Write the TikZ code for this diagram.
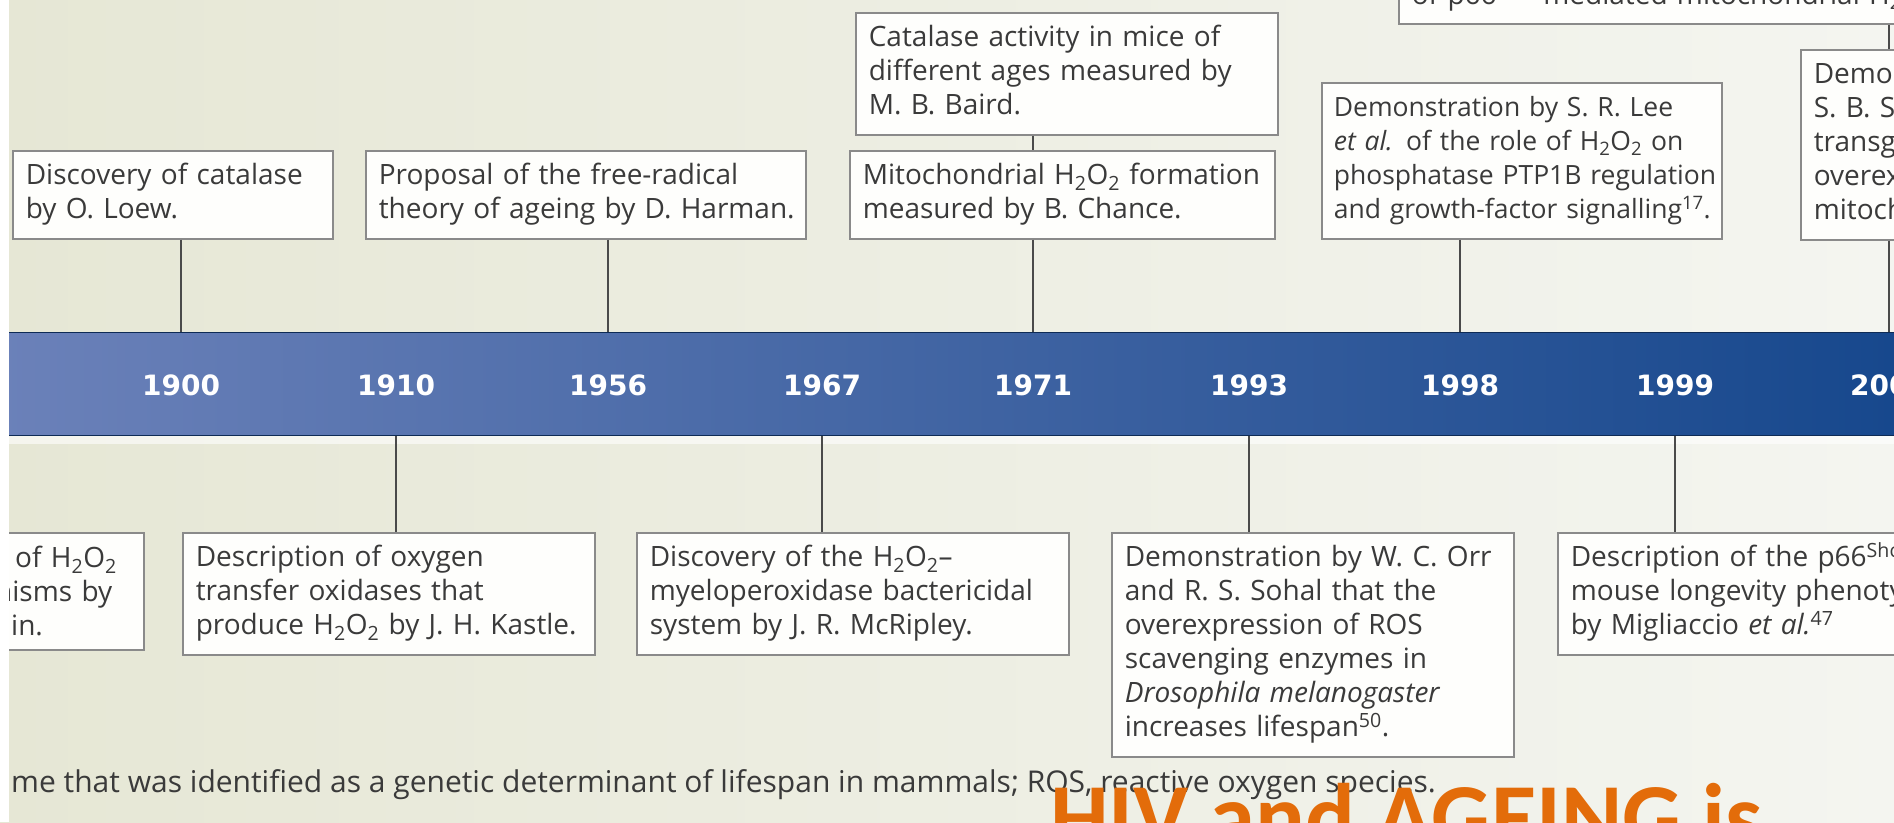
\documentclass[tikz,border=0pt]{standalone}
\usepackage{fontspec}
\setmainfont{Open Sans}
\newfontfamily\yearfont{DejaVu Sans}
\newfontfamily\slidefont{Carlito}
\newcommand\hoo{H\textsubscript{2}O\textsubscript{2}}
\newcommand\boxlines[1]{\begin{tabular}{@{}l@{}}#1\end{tabular}}
\definecolor{bgleft}{HTML}{E6E7D5}
\definecolor{bgright}{HTML}{F4F5F0}
\definecolor{bandleft}{HTML}{6B81B9}
\definecolor{bandmid}{HTML}{4868A9}
\definecolor{bandright}{HTML}{17488D}
\definecolor{boxline}{HTML}{8A8A8A}
\definecolor{boxfill}{HTML}{FEFEFC}
\definecolor{connline}{HTML}{4A4A4A}
\definecolor{txtcol}{HTML}{3A3A3A}
\definecolor{orangec}{HTML}{E36C0A}
\begin{document}
\begin{tikzpicture}[x=1pt,y=-1pt,
  box/.style={draw=boxline, line width=1.6pt, fill=boxfill, text=txtcol,
    inner xsep=13pt, inner ysep=10pt, align=left, anchor=north west,
    font=\fontsize{28}{34}\selectfont},
  conn/.style={draw=connline, line width=2pt},
  yr/.style={text=white, inner sep=0pt,
    font=\yearfont\bfseries\fontsize{28}{30}\selectfont}
]
\useasboundingbox (0,0) rectangle (1894,822);
\clip (0,0) rectangle (1894,822);
\shade[left color=bgleft, right color=bgright] (0,0) rectangle (1894,822);

% band
\node[minimum width=1894pt, minimum height=103pt, inner sep=0pt, anchor=north west,
  left color=bandleft, middle color=bandmid, right color=bandright,
  draw=bandright!60!black, line width=0.8pt] (band) at (0,332) {};
\fill[white, opacity=0.6] (0,436) rectangle (1894,444);

% years
\node[yr] (y1900) at (181,385) {1900};
\node[yr] (y1910) at (396,385) {1910};
\node[yr] (y1956) at (608,385) {1956};
\node[yr] (y1967) at (822,385) {1967};
\node[yr] (y1971) at (1033,385) {1971};
\node[yr] (y1993) at (1249,385) {1993};
\node[yr] (y1998) at (1460,385) {1998};
\node[yr] (y1999) at (1675,385) {1999};
\node[yr] (y2005) at (1889,385) {2005};

% top boxes
\node[box, text width=294pt, minimum height=83pt] (a) at (12,150)
  {\boxlines{Discovery of catalase\\by O. Loew.}};
\node[box, text width=414pt, minimum height=83pt] (b) at (365,150)
  {\boxlines{Proposal of the free-radical\\theory of ageing by D. Harman.}};
\node[box, text width=399pt, minimum height=83pt] (c) at (849,150)
  {\boxlines{Mitochondrial \hoo{} formation\\measured by B. Chance.}};
\node[box, text width=396pt, minimum height=113pt] (d) at (855,12)
  {\boxlines{Catalase activity in mice of\\different ages measured by\\M. B. Baird.}};
\node[box, text width=376pt, minimum height=151pt, inner xsep=12pt, font=\fontsize{26.5}{34}\selectfont] (e) at (1321,82)
  {\boxlines{Demonstration by S. R. Lee\\\textit{et al.} of the role of \hoo{} on\\phosphatase PTP1B regulation\\and growth-factor signalling\textsuperscript{17}.}};
\node[box, text width=574pt, anchor=south west] (f) at (1398,25)
  {\boxlines{of p66\textsuperscript{Shc}--mediated mitochondrial \hoo}};
\node[box, text width=374pt, minimum height=184pt] (g) at (1800,49)
  {\boxlines{Demon\\S. B. Sc\\transge\\overex\\mitoch}};

% bottom boxes
\node[box, text width=474pt, minimum height=117pt, anchor=north east] (h) at (145,532)
  {\hspace*{358pt}of \hoo\\\hspace*{338pt}nisms by\\\hspace*{354pt}in.};
\node[box, text width=386pt, minimum height=117pt] (i) at (182,532)
  {\boxlines{Description of oxygen\\transfer oxidases that\\produce \hoo{} by J. H. Kastle.}};
\node[box, text width=406pt, minimum height=117pt] (j) at (636,532)
  {\boxlines{Discovery of the \hoo--\\myeloperoxidase bactericidal\\system by J. R. McRipley.}};
\node[box, text width=376pt, minimum height=219pt] (k) at (1111,532)
  {\boxlines{Demonstration by W. C. Orr\\and R. S. Sohal that the\\overexpression of ROS\\scavenging enzymes in\\\textit{Drosophila melanogaster}\\increases lifespan\textsuperscript{50}.}};
\node[box, text width=420pt, minimum height=117pt] (l) at (1557,532)
  {\boxlines{Description of the p66\textsuperscript{Shc}\\mouse longevity phenotype\\by Migliaccio \textit{et al.}\textsuperscript{47}}};

% connectors
\draw[conn] (a.south -| y1900) -- (band.north -| y1900);
\draw[conn] (b.south -| y1956) -- (band.north -| y1956);
\draw[conn] (d.south -| y1971) -- (c.north -| y1971);
\draw[conn] (c.south -| y1971) -- (band.north -| y1971);
\draw[conn] (e.south -| y1998) -- (band.north -| y1998);
\draw[conn] (f.south -| y2005) -- (g.north -| y2005);
\draw[conn] (g.south -| y2005) -- (band.north -| y2005);
\draw[conn] (band.south -| y1910) -- (i.north -| y1910);
\draw[conn] (band.south -| y1967) -- (j.north -| y1967);
\draw[conn] (band.south -| y1993) -- (k.north -| y1993);
\draw[conn] (band.south -| y1999) -- (l.north -| y1999);

% caption
\node[anchor=base west, inner sep=0pt, text=txtcol, font=\fontsize{30}{34}\selectfont] (cap) at (11,792)
  {me that was identified as a genetic determinant of lifespan in mammals; ROS, reactive oxygen species.};

% left margin
\fill[white] (0,0) rectangle (9,822);

% slide title overlay
\node[anchor=base west, inner sep=0pt, text=orangec, font=\slidefont\bfseries\fontsize{93}{100}\selectfont] (title) at (1050,848)
  {HIV and AGEING is};
\end{tikzpicture}
\end{document}
